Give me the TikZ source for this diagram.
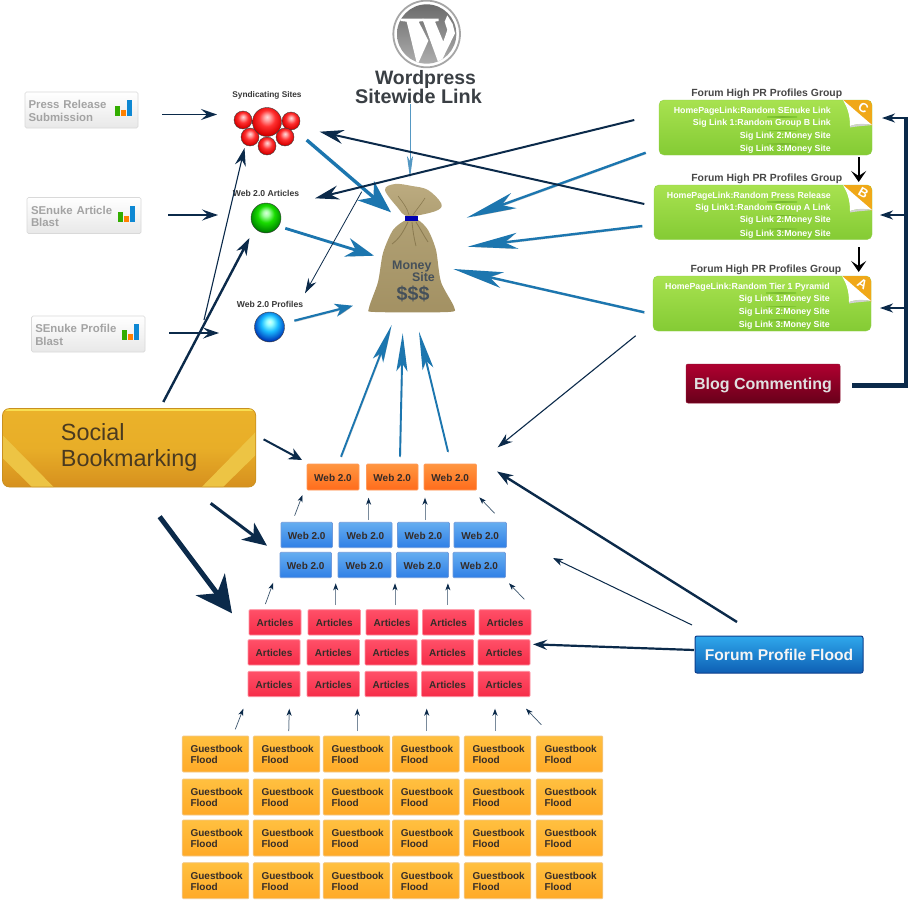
\documentclass[tikz,border=0pt]{standalone}
\usepackage{fontspec}
\setmainfont{Liberation Sans}
\usetikzlibrary{arrows.meta,shadings}
\definecolor{navy}{HTML}{0B2A4A}
\definecolor{barrow}{HTML}{1C76AF}
\definecolor{lgreenT}{HTML}{A8E250}
\definecolor{lgreenB}{HTML}{84CB34}
\definecolor{sack}{HTML}{B0A074}
\definecolor{sackD}{HTML}{8A7A50}
\definecolor{sackT}{HTML}{BCAB80}
\definecolor{sackE}{HTML}{A39163}
\definecolor{bagtxt}{HTML}{45505A}
\definecolor{txtdark}{HTML}{3A3F44}
\definecolor{corner}{HTML}{F0A818}
\definecolor{orB}{HTML}{FF9A5A}
\definecolor{orT}{HTML}{FF9640}
\definecolor{orD}{HTML}{FF6C1C}
\definecolor{blB}{HTML}{6E9ADC}
\definecolor{blT}{HTML}{66AEF0}
\definecolor{blD}{HTML}{2F7FE6}
\definecolor{rdB}{HTML}{FF8FA0}
\definecolor{rdT}{HTML}{FF5068}
\definecolor{rdD}{HTML}{F62C48}
\definecolor{gbB}{HTML}{F2C88A}
\definecolor{gbT}{HTML}{FFC040}
\definecolor{gbD}{HTML}{FFAA28}
\definecolor{blogT}{HTML}{B00030}
\definecolor{blogD}{HTML}{68001A}
\definecolor{blogB}{HTML}{901030}
\definecolor{flT}{HTML}{2FA8EC}
\definecolor{flD}{HTML}{0E5FB4}
\definecolor{flB}{HTML}{0E3F8C}
\definecolor{soT}{HTML}{EBB22A}
\definecolor{soD}{HTML}{D6901E}
\definecolor{soM}{HTML}{E8AE28}
\definecolor{soS}{HTML}{EDC444}
\definecolor{soE}{HTML}{F8DE50}
\definecolor{soB}{HTML}{C89020}
\definecolor{soX}{HTML}{4A3A20}
\definecolor{boxtxt}{HTML}{352C28}
\pgfdeclareradialshading{redball}{\pgfpoint{0bp}{9bp}}{color(0bp)=(white!85!red);color(5bp)=(red!35!white);color(14bp)=(red!75!pink);color(26bp)=(red!85!black);color(33bp)=(red!30!black);color(50bp)=(black)}
\pgfdeclareradialshading{greenball}{\pgfpoint{0bp}{9bp}}{color(0bp)=(white!85!green);color(5bp)=(green!35!white);color(14bp)=(green!85!black!90!yellow);color(26bp)=(green!55!black);color(33bp)=(green!15!black);color(50bp)=(black)}
\pgfdeclareradialshading{blueball}{\pgfpoint{0bp}{9bp}}{color(0bp)=(white!85!cyan);color(5bp)=(cyan!40!white);color(14bp)=(cyan!70!blue!90!white);color(26bp)=(cyan!35!blue!75!black);color(33bp)=(blue!20!black);color(50bp)=(black)}
\newcommand\fs[1]{\fontsize{#1}{#1}\selectfont}
\newcommand\bx[7]{\node[#1,minimum width={(#5-#3)*1pt},minimum height={(#6-#4)*1pt}] (#2) at ({(#3+#5)/2},{(#4+#6)/2}) {#7};}
\newcommand\lnk[4]{\coordinate (#2s) at (#3);\coordinate (#2e) at (#4);\draw[#1] (#2s) -- (#2e);}
\tikzset{
 allbox/.style={inner sep=0pt,outer sep=0pt,rounded corners=1pt,line width=.7pt,font=\bfseries\fs{10},text=boxtxt},
 oneline/.style={text height=9pt,text depth=0pt},
 orangebox/.style={allbox,oneline,draw=orB,top color=orT,bottom color=orD},
 bluebox/.style={allbox,oneline,draw=blB,top color=blT,bottom color=blD},
 redbox/.style={allbox,oneline,draw=rdB,top color=rdT,bottom color=rdD},
 gbox/.style={allbox,draw=gbB,top color=gbT,bottom color=gbD,text width=50pt,align=left,text height=9pt},
 btnbox/.style={inner sep=0pt,outer sep=0pt,rounded corners=1.5pt,draw=black!15,line width=.7pt,top color=white,bottom color=black!9,text=black!36,font=\bfseries\fs{11.4},text width=106pt,align=left,text height=10pt},
 grbox/.style={inner sep=0pt,outer sep=0pt,rounded corners=5pt,top color=lgreenT,bottom color=lgreenB,draw=lgreenB!90!white,line width=.4pt},
 titletxt/.style={inner sep=0pt,anchor=east,font=\bfseries\fs{10.4},text=black!72},
 sigtxt/.style={inner sep=0pt,anchor=east,font=\bfseries\fs{8.8},text=white},
 lbl/.style={inner sep=0pt,font=\bfseries\fs{8.6},text=black!78},
 shad/.style={preaction={draw=black!45,opacity=.45,transform canvas={xshift=.7pt,yshift=-1.2pt}}},
 bluebig/.style={draw=barrow,shad,line width=3.4pt,-{Stealth[length=33pt,width=25pt,inset=10pt]}},
 bluemid/.style={draw=barrow,shad,line width=2.8pt,-{Stealth[length=28pt,width=19pt,inset=9pt]}},
 bluelow/.style={draw=barrow,shad,line width=2.2pt,-{Stealth[length=18pt,width=13pt,inset=5pt]}},
 blueup/.style={draw=barrow,shad,line width=1.9pt,-{Stealth[length=38pt,width=11pt,inset=8pt]}},
 bluelong/.style={draw=barrow,shad,line width=2.4pt,-{Stealth[length=50pt,width=16pt,inset=13pt]}},
 bluethin/.style={draw=barrow!75,line width=1pt,-{Stealth[length=22pt,width=6pt,inset=5pt]}},
 navyS/.style={draw=navy,line width=1.5pt,-{Stealth[length=16pt,width=11pt,inset=6pt]}},
 navyL/.style={draw=navy,line width=2pt,-{Stealth[length=24pt,width=14pt,inset=8pt]}},
 navyT/.style={draw=navy,line width=.8pt,-{Stealth[length=15pt,width=9pt,inset=5pt]}},
 small/.style={draw=navy!55,line width=1pt,-{Stealth[length=7pt,width=5pt,inset=2pt,color=navy]}},
 smallthin/.style={draw=navy!80,line width=.7pt,-{Stealth[length=7pt,width=5pt,inset=2pt,color=navy]}},
 blk/.style={draw=black,line width=2pt,-{Stealth[length=11pt,width=15pt,inset=5pt]}},
 ballnode/.style={circle,inner sep=0pt,outer sep=0pt,minimum size=#1,draw=black!75,line width=.4pt},
}
\begin{document}
\begin{tikzpicture}[x=1pt,y=-1pt]
\useasboundingbox (0,0) rectangle (917,907);
\fill[white] (0,0) rectangle (917,907);

% ---- WordPress logo
\begin{scope}[shift={(340,0)},x=.3333pt,y=-.3333pt]
 \draw[draw=black!35,line width=1.8pt,fill=white] (260,102) circle (100);
 \shade[top color=black!58,bottom color=black!32] (260,102) circle (89);
 \begin{scope}
 \clip (260,102) circle (89);
 \fill[white] (182,56)--(250,56)--(250,63)--(236,65)--(265,122)--(232,196)--(200,65)--(182,63)--cycle;
 \fill[white] (248,56)--(296,56)--(296,63)--(285,65)--(310,125)--(322,90)--(314,65)--(322,46)--(338,72)--(345,100)--(298,196)--(250,65)--(248,63)--cycle;
 \end{scope}
\end{scope}
\node[inner sep=0pt,font=\bfseries\fs{19.4},text=txtdark] (wp1) at (425.5,79.5) {Wordpress};
\node[inner sep=0pt,font=\bfseries\fs{19.8},text=txtdark] (wp2) at (418.5,96.5) {Sitewide Link};

% ---- Left grey buttons
\bx{btnbox}{press}{25}{92}{138}{128}{Press Release\\[1pt]Submission}
\bx{btnbox}{article}{27}{197.5}{141}{233.5}{SEnuke Article\\[1pt]Blast}
\bx{btnbox}{profile}{31.5}{316}{145}{352}{SEnuke Profile\\[1pt]Blast}
\foreach \rr/\tt in {138/92,141/197.5,145/316}{
 \fill[green!60!black!80!yellow] (\rr-23,\tt+14) rectangle (\rr-18,\tt+24);
 \fill[orange] (\rr-17,\tt+18) rectangle (\rr-12,\tt+24);
 \fill[cyan!70!blue] (\rr-11,\tt+8) rectangle (\rr-6,\tt+24);
}

% ---- Spheres
\foreach \n/\x/\y in {s1/243/120,s2/291/121,s3/250/137,s4/285/137,s5/267/146}
 \node[ballnode=18pt,shading=redball] (\n) at (\x,\y) {};
\node[ballnode=29pt,shading=redball] (s0) at (267,122) {};
\node[ballnode=30pt,shading=greenball] (gball) at (266,218) {};
\node[ballnode=30pt,shading=blueball] (bball) at (269.5,327) {};
\node[lbl,font=\bfseries\fs{8.3}] (syn) at (267,95) {Syndicating Sites};
\node[lbl] (wa) at (266,193) {Web 2.0 Articles};
\node[lbl] (wb) at (270,304) {Web 2.0 Profiles};

% ---- Money bag
\shade[top color=sackT,bottom color=sack]
 plot[smooth cycle,tension=.6] coordinates {(385,190)(395,184)(412,186)(428,190)(441,203)(438,210)(420,215)(406,216)(398,208)};
\shade[top color=sack,bottom color=sackE]
 plot[smooth cycle,tension=.45] coordinates {(406,220)(393,230)(383,253)(378,282)(369,308)(375,312)(448,312)(454,307)(441,282)(436,250)(428,230)(418,220)};
\fill[blue!70!black] (405,215.5) rectangle (418,220.5);
\draw[sackD,line width=.8pt] (408,222) .. controls (403,232) and (400,238) .. (392,244);
\draw[sackD,line width=.8pt] (412,222) .. controls (413,232) and (414,238) .. (416,246);
\draw[sackD,line width=.8pt] (416,222) .. controls (421,230) and (424,236) .. (428,242);
\draw[sackD,line width=.6pt] (398,196) .. controls (404,204) and (407,208) .. (409,215);
\draw[sackD,line width=.6pt] (425,198) .. controls (420,206) and (416,210) .. (413,215);
\node[inner sep=0pt,anchor=west,font=\bfseries\fs{12.4},text=bagtxt] (mon) at (392,266.5) {Money};
\node[inner sep=0pt,anchor=east,font=\bfseries\fs{12.4},text=bagtxt] (sit) at (435,277) {Site};
\node[inner sep=0pt,anchor=west,font=\bfseries\fs{19.6},text=bagtxt] (dol) at (396.5,294) {\$\$\$};

% ---- Forum groups
\foreach \nm/\ll/\tt/\bb/\rr/\LL in {gc/659/100/155/872/C,gb/654/185/239.5/872/B,ga/653/276/331/871/A}{
 \bx{grbox}{\nm}{\ll}{\tt}{\rr}{\bb}{}
 \begin{scope}
  \clip[rounded corners=5pt] (\ll,\tt) rectangle (\rr,\bb);
  \fill[corner] (\rr-29,\tt) -- (\rr,\tt) -- (\rr,\tt+26) -- cycle;
  \fill[white] (\rr-29,\tt) -- (\rr,\tt+25) .. controls (\rr-10,\tt+23) and (\rr-16,\tt+24) .. (\rr-22,\tt+26) .. controls (\rr-22,\tt+14) and (\rr-25,\tt+7) .. cycle;
  \fill[black!18] (\rr,\tt+25) .. controls (\rr-10,\tt+23) and (\rr-16,\tt+24) .. (\rr-22,\tt+26) -- (\rr-22,\tt+27.5) .. controls (\rr-14,\tt+26) and (\rr-8,\tt+26) .. cycle;
 \end{scope}
 \node[inner sep=0pt,rotate=-30,font=\bfseries\fs{13},text=white] (\nm L) at (\rr-8.5,\tt+8) {\LL};
 \foreach \dy in {16.5,30,43.5}
  \shade[left color=lgreenB,right color=lgreenB,middle color=lgreenB!90!black] (\rr-105,\tt+\dy) rectangle (\rr-75,\tt+\dy+.7);
}
\node[titletxt] (tc) at (842.3,94) {Forum High PR Profiles Group};
\node[titletxt] (tb) at (842.3,179) {Forum High PR Profiles Group};
\node[titletxt] (ta) at (841.5,270) {Forum High PR Profiles Group};
\node[sigtxt] (c1) at (831,111) {HomePageLink:Random SEnuke Link};
\node[sigtxt] (c2) at (831,123) {Sig Link 1:Random Group B Link};
\node[sigtxt] (c3) at (831,136) {Sig Link 2:Money Site};
\node[sigtxt] (c4) at (831,149) {Sig Link 3:Money Site};
\node[sigtxt] (b1) at (831,196) {HomePageLink:Random Press Release};
\node[sigtxt] (b2) at (831,208) {Sig Link1:Random Group A Link};
\node[sigtxt] (b3) at (831,220.5) {Sig Link 2:Money Site};
\node[sigtxt] (b4) at (831,234) {Sig Link 3:Money Site};
\node[sigtxt] (a1) at (830,287) {HomePageLink:Random Tier 1 Pyramid};
\node[sigtxt] (a2) at (830,299) {Sig Link 1:Money Site};
\node[sigtxt] (a3) at (830,312) {Sig Link 2:Money Site};
\node[sigtxt] (a4) at (830,325.5) {Sig Link 3:Money Site};

% ---- Blog commenting & forum flood
\bx{inner sep=0pt,outer sep=0pt,rounded corners=2pt,top color=blogT,bottom color=blogD,draw=blogB,line width=.5pt,font=\bfseries\fs{16},text=black!12,oneline,text height=12.5pt}{blog}{686}{364}{840}{403}{Blog Commenting}
\bx{inner sep=0pt,outer sep=0pt,rounded corners=2pt,top color=flT,bottom color=flD,draw=flB,line width=1pt,font=\bfseries\fs{15.6},text=black!4}{flood}{695}{636}{863}{673}{Forum Profile Flood}

% ---- Social bookmarking
\begin{scope}
 \clip[rounded corners=7pt] (2.5,408.5) rectangle (255.7,487);
 \shade[top color=soT,bottom color=soD,middle color=soM] (2.5,408.5) rectangle (255.7,487);
 \fill[soS] (2.5,435) -- (53.6,487) -- (32,487) -- (2.5,458) -- cycle;
 \fill[soS] (255.7,432) -- (201.8,487) -- (223,487) -- (255.7,455) -- cycle;
 \fill[soE] (2.5,408.5) rectangle (255.7,410.5);
\end{scope}
\bx{inner sep=0pt,outer sep=0pt,rounded corners=7pt,draw=soB,line width=.7pt}{social}{2.5}{408.5}{255.7}{487}{}
\node[inner sep=0pt,anchor=west,font=\fs{23.4},text=soX] (soc1) at (60.7,432.5) {Social};
\node[inner sep=0pt,anchor=west,font=\fs{23.4},text=soX] (soc2) at (60.7,460) {Bookmarking};

% ---- Grids
\foreach \i/\aa/\bb in {1/307/359,2/366.5/418,3/424/476.5}{
 \bx{orangebox}{or\i}{\aa}{464}{\bb}{490}{Web 2.0}
}
\foreach \i/\aa/\bb in {1/281/332.5,2/339/392,3/397.5/449.5,4/454/506.5}{
 \bx{bluebox}{bu\i}{\aa}{522.3}{\bb}{547.7}{Web 2.0}
 \bx{bluebox}{bl\i}{(\aa-1)}{552.3}{(\bb-1)}{577.7}{Web 2.0}
}
\foreach \i/\aa/\bb in {1/249/301,2/308/360.5,3/366/418,4/422.5/474.5,5/479/531}{
 \bx{redbox}{ra\i}{\aa}{609.7}{\bb}{635}{Articles}
 \bx{redbox}{rb\i}{(\aa-1)}{639.7}{(\bb-1)}{665}{Articles}
 \bx{redbox}{rc\i}{(\aa-1)}{671.3}{(\bb-1)}{696.7}{Articles}
}
\foreach \rw/\tt in {1/736,2/779,3/820,4/862.7}{
 \foreach \i/\aa in {1/182.3,2/253.3,3/323.3,4/392.7,5/464.3,6/536.3}{
  \bx{gbox}{gb\rw\i}{(\aa)}{(\tt)}{(\aa+66.5)}{(\tt+36)}{Guestbook\\[1pt]Flood}
 }
}

% ---- Connectors, left side
\lnk{navyS}{l1}{162,114.5}{217,114.5}
\lnk{navyS}{l2}{168,215}{218,215}
\lnk{navyS}{l3}{169,333}{219,333}
\lnk{draw=navy,line width=2.4pt,-{Stealth[length=17pt,width=11pt,inset=5pt]}}{l4}{163.3,402}{249.5,238}
\lnk{draw=navy,line width=1.1pt,-{Stealth[length=18pt,width=11pt,inset=6pt]}}{l5}{204,320}{244.5,148}
\lnk{draw=navy,line width=2pt,-{Stealth[length=13pt,width=12pt,inset=4pt]}}{l6}{263.6,439.3}{302,460}
\lnk{draw=navy,line width=3pt,-{Stealth[length=24pt,width=21pt,inset=7pt]}}{l7}{210.7,503.3}{267,545.7}
\lnk{draw=navy,line width=5pt,-{Stealth[length=36pt,width=36pt,inset=11pt]}}{l8}{159.6,516.7}{232,613.3}

% ---- Connectors, into the bag
\lnk{bluebig}{m1}{306.7,140}{391,212.3}
\lnk{bluemid}{m2}{285.3,228.3}{374,255.7}
\lnk{bluelow}{m3}{294.3,320.7}{353,305.7}
\lnk{bluethin}{m4}{410,104}{410,178}
\lnk{blueup}{m5}{341,456.7}{391.7,325}
\lnk{blueup}{m6}{400,456.7}{402.7,333.3}
\lnk{blueup}{m7}{448,451.7}{419,331.7}
\lnk{bluelong}{m8}{645.7,152.7}{466.7,217.7}
\lnk{bluelong}{m9}{642.3,226}{467.7,246.7}
\lnk{bluelong}{m10}{644.3,312.3}{453.3,269}

% ---- Connectors, navy from groups
\lnk{navyL}{n1}{634.3,120}{315,198.3}
\lnk{navyL}{n2}{644.3,204}{319.7,131.7}
\lnk{navyT}{n3}{361.7,191.7}{305,293.3}
\lnk{draw=navy,line width=1.1pt,-{Stealth[length=15pt,width=10pt,inset=5pt]}}{n4}{635.7,335.7}{497.7,447.3}
\lnk{draw=navy,line width=2.4pt,-{Stealth[length=16pt,width=11pt,inset=5pt]}}{n5}{737,622}{497,471.5}
\lnk{draw=navy,line width=1pt,-{Stealth[length=10pt,width=7pt,inset=3pt]}}{n6}{692,625}{553,558}
\lnk{draw=navy,line width=2.2pt,-{Stealth[length=14pt,width=10pt,inset=5pt]}}{n7}{694,650}{533,644.3}

% ---- Black and bracket
\lnk{blk}{k1}{858.7,157}{858.7,182}
\lnk{blk}{k2}{858.7,247}{858.7,272}
\coordinate (brA) at (852,385.5);
\coordinate (brB) at (906,385.5);
\coordinate (brC) at (906,116.7);
\draw[navy,line width=4.5pt,line join=miter] (brA) -- (brB) -- (brC);
\lnk{draw=navy,line width=1.5pt,-{Stealth[length=13pt,width=9pt,inset=4pt]}}{br1}{904,118}{882,118}
\lnk{draw=navy,line width=1.5pt,-{Stealth[length=13pt,width=9pt,inset=4pt]}}{br2}{904,215}{880,215}
\lnk{draw=navy,line width=1.5pt,-{Stealth[length=13pt,width=9pt,inset=4pt]}}{br3}{904,308}{880,308}

% ---- Small pyramid arrows
\lnk{smallthin}{p1}{294.6,515.7}{302.5,495}
\lnk{small}{p2}{368.6,520}{368.6,497.7}
\lnk{small}{p3}{425,520}{425,497.7}
\lnk{smallthin}{p4}{494.6,513.3}{479.3,497.3}
\lnk{smallthin}{q1}{265.4,604}{273.2,582.7}
\lnk{small}{q2}{335.7,605}{335.7,583.3}
\lnk{small}{q3}{395,605}{395,583.3}
\lnk{small}{q4}{447.9,605}{447.9,583.3}
\lnk{smallthin}{q5}{524.3,599.3}{509,583.3}
\lnk{smallthin}{r1}{235.3,729.3}{243.3,708.7}
\lnk{small}{r2}{288.7,731}{289.3,708.7}
\lnk{small}{r3}{357.3,731}{357.3,708.7}
\lnk{small}{r4}{426.7,731}{426.7,708.7}
\lnk{small}{r5}{495,731}{495,708.7}
\lnk{smallthin}{r6}{541.3,724.7}{526,708.7}
\end{tikzpicture}
\end{document}
